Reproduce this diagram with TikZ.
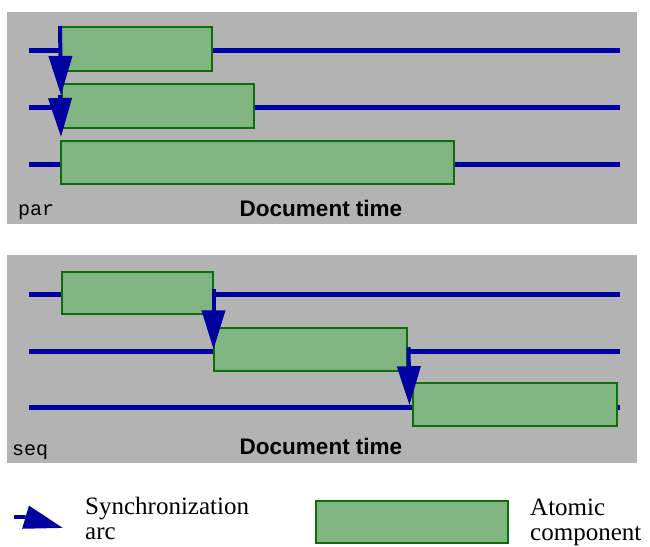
\documentclass[tikz,border=0pt]{standalone}
\usepackage{fontspec}
\setmainfont{Liberation Serif}
\setsansfont{Liberation Sans}
\setmonofont{Liberation Mono}
\usetikzlibrary{arrows.meta,calc}
\definecolor{panelgray}{RGB}{179,179,179}
\definecolor{trackblue}{RGB}{0,0,160}
\definecolor{compfill}{RGB}{128,180,128}
\definecolor{compdraw}{RGB}{10,110,10}
\tikzset{
  panel/.style={fill=panelgray},
  track/.style={draw=trackblue, line width=5pt},
  atomic/.style={draw=compdraw, fill=compfill, line width=1.5pt, anchor=north west, inner sep=0pt},
  syncarc/.style={draw=trackblue, line width=4pt, -{Triangle[length=39pt,width=23pt]}},
  timelabel/.style={font=\sffamily\bfseries\fontsize{22.5}{24}\selectfont, anchor=base, inner sep=0pt},
  modelabel/.style={font=\ttfamily\fontsize{20}{22}\selectfont, anchor=base west, inner sep=0pt},
  legendtext/.style={font=\fontsize{25}{25}\selectfont, anchor=base west, align=left, inner sep=0pt}
}
\begin{document}
\begin{tikzpicture}[x=1pt,y=-1pt]
\useasboundingbox (0,0) rectangle (650,546);
% panels
\fill[panel] (7,12) rectangle (637,224);
\fill[panel] (7,255) rectangle (637,463);
\foreach \y in {50,107,164,294,351,407} \draw[track] (29,\y) -- (620,\y);
% par
\node[atomic, minimum width=151pt, minimum height=44pt] (par1) at (60,26) {};
\node[atomic, minimum width=192pt, minimum height=44pt] (par2) at (61,83) {};
\node[atomic, minimum width=393pt, minimum height=43pt] (par3) at (60,140) {};
\draw[syncarc] (par1.north west) -- ($(par2.north west)+(0,12)$);
\draw[syncarc] ($(par2.north west)+(-1,12)$) -- ($(par3.north west)+(1,-3)$);
\node[modelabel] (parlabel) at (18,215) {par};
\node[timelabel] (partime) at (321,216) {Document time};
% seq
\node[atomic, minimum width=151pt, minimum height=42pt] (seq1) at (61,271) {};
\node[atomic, minimum width=193pt, minimum height=43pt] (seq2) at (213,327) {};
\node[atomic, minimum width=204pt, minimum height=43pt] (seq3) at (412,382) {};
\draw[syncarc] ($(seq1.east)+(0,-4)$) -- (seq1.east |- seq2.west);
\draw[syncarc] ($(seq2.east)+(1,-2)$) -- ($(seq2.east |- seq3.west)+(2,1)$);
\node[modelabel] (seqlabel) at (12,455) {seq};
\node[timelabel] (seqtime) at (321,454) {Document time};
% legend
\coordinate (legstart) at (14,517);
\coordinate (legbend) at (25,517);
\coordinate (legtip) at (63,528);
\draw[draw=trackblue, line width=4pt] (legstart) -- (legbend);
\draw[syncarc] (legbend) -- (legtip);
\node[legendtext] (synctext) at (85,539) {Synchronization\\arc};
\node[atomic, minimum width=192pt, minimum height=42pt] (legbox) at (315,500) {};
\node[legendtext] (atomtext) at (530,540) {Atomic\\component};
\end{tikzpicture}
\end{document}
